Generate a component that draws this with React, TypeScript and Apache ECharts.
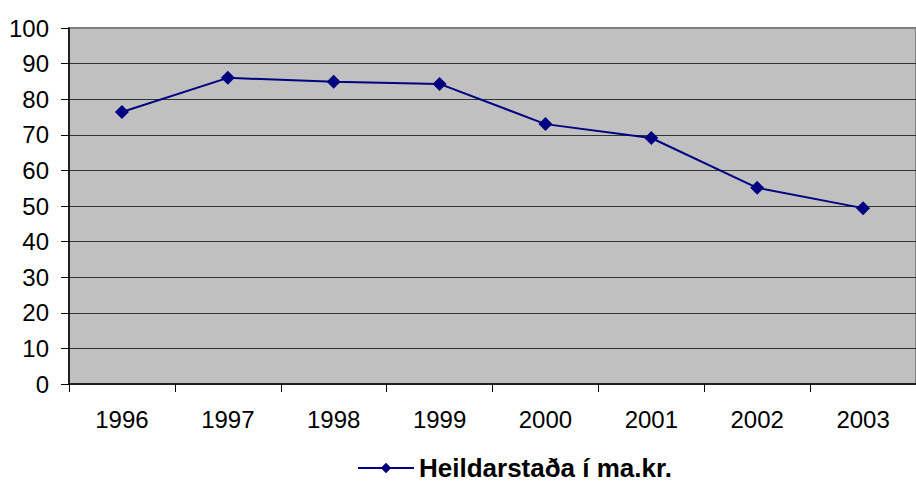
import React, { useEffect, useRef } from "react";
import * as echarts from "echarts";

const categories = ["1996", "1997", "1998", "1999", "2000", "2001", "2002", "2003"];
const values = [76.4, 86.0, 84.9, 84.3, 73.0, 69.1, 55.1, 49.4];
const seriesName = "Heildarstaða í ma.kr.";
const yMin = 0;
const yMax = 100;
const yInterval = 10;

export default function App() {
  const ref = useRef<HTMLDivElement>(null);
  useEffect(() => {
    if (!ref.current) return;
    const chart = echarts.init(ref.current, undefined, { renderer: "svg" });
    const font = "Arial, 'Liberation Sans', sans-serif";
    chart.setOption({
      animation: false,
      backgroundColor: "#ffffff",
      grid: {
        left: 69,
        top: 28,
        width: 851,
        height: 356,
        show: true,
        backgroundColor: "#c0c0c0",
        borderColor: "#808080",
        borderWidth: 2,
        containLabel: false,
      },
      legend: {
        top: 455,
        left: 357,
        padding: 0,
        itemWidth: 56,
        itemHeight: 13,
        itemGap: 6,
        textStyle: { fontFamily: font, fontSize: 26, fontWeight: "bold", color: "#000" },
        data: [seriesName],
      },
      xAxis: {
        type: "category",
        data: categories,
        boundaryGap: true,
        axisLine: { show: true, lineStyle: { color: "#000", width: 1.5 } },
        axisTick: { show: true, length: 8, alignWithLabel: false, lineStyle: { color: "#000" } },
        axisLabel: { fontFamily: font, fontSize: 24, color: "#000", margin: 23 },
        splitLine: { show: false },
      },
      yAxis: {
        type: "value",
        min: yMin,
        max: yMax,
        interval: yInterval,
        axisLine: { show: true, lineStyle: { color: "#000", width: 1.5 } },
        axisTick: { show: true, length: 8, lineStyle: { color: "#000" } },
        axisLabel: { fontFamily: font, fontSize: 24, color: "#000", margin: 20 },
        splitLine: { show: true, showMaxLine: false, showMinLine: false, lineStyle: { color: "#333333", width: 1 } },
      },
      series: [
        {
          name: seriesName,
          type: "line",
          data: values,
          symbol: "diamond",
          symbolSize: 14,
          lineStyle: { color: "#000080", width: 2 },
          itemStyle: { color: "#000080" },
        },
      ],
    });
    return () => chart.dispose();
  }, []);
  return (
    <div
      ref={ref}
      style={{ position: "fixed", left: 0, top: 0, width: 916, height: 486 }}
    />
  );
}
